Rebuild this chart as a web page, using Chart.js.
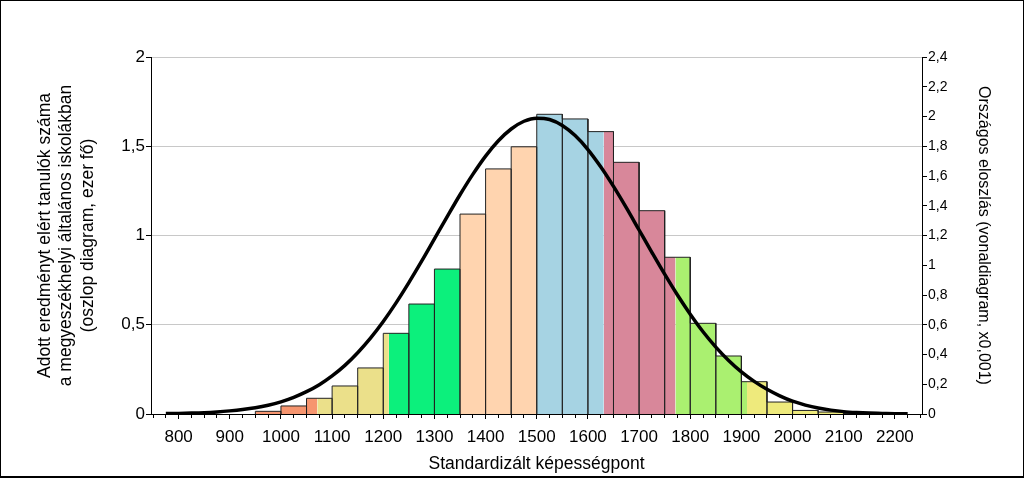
<!DOCTYPE html>
<html><head><meta charset="utf-8">
<script src="https://cdn.jsdelivr.net/npm/chart.js@4.4.1/dist/chart.umd.min.js"></script>
<style>
html,body{margin:0;padding:0;background:#fff;}
#wrap{position:relative;width:1024px;height:478px;}
#frame{position:absolute;left:0;top:0;width:1024px;height:478px;box-sizing:border-box;border:1px solid #000;border-bottom:2px solid #000;pointer-events:none;}
canvas{display:block;}
</style></head><body>
<div id="wrap"><canvas id="c" width="1024" height="478"></canvas><div id="frame"></div></div>
<script>
// ---- data ----
const binStarts = [950,1000,1050,1100,1150,1200,1250,1300,1350,1400,1450,1500,1550,1600,1650,1700,1750,1800,1850,1900,1950,2000,2050,2100];
const binWidth = 50;
const binValues = [0.015,0.045,0.088,0.157,0.258,0.452,0.616,0.812,1.12,1.373,1.497,1.679,1.653,1.582,1.41,1.139,0.878,0.508,0.325,0.181,0.067,0.02,0.011,0.003];
const levelBounds = [1071,1211,1350,1500,1631,1771,1911];
const levelColors = ['#F6956F','#EBE08A','#0CF07C','#FFD4AF','#A6D3E3','#D8879A','#AAF070','#EEEA7C'];
const curveX = [775,800,825,850,875,900,925,950,975,1000,1025,1050,1075,1100,1125,1150,1175,1200,1225,1250,1275,1300,1325,1350,1375,1400,1425,1450,1475,1500,1525,1550,1575,1600,1625,1650,1675,1700,1725,1750,1775,1800,1825,1850,1875,1900,1925,1950,1975,2000,2025,2050,2075,2100,2125,2150,2175,2200,2225];
const curveY = [0.003,0.004,0.006,0.009,0.014,0.021,0.030,0.042,0.059,0.082,0.112,0.150,0.197,0.256,0.327,0.412,0.510,0.622,0.747,0.883,1.027,1.177,1.327,1.474,1.611,1.734,1.837,1.916,1.968,1.989,1.980,1.940,1.872,1.778,1.662,1.530,1.387,1.237,1.087,0.940,0.800,0.671,0.553,0.450,0.360,0.283,0.219,0.166,0.122,0.086,0.060,0.040,0.026,0.016,0.010,0.006,0.004,0.002,0.001];
const xLabelValues = [800,900,1000,1100,1200,1300,1400,1500,1600,1700,1800,1900,2000,2100,2200];
const xTickLabels = ['800','900','1000','1100','1200','1300','1400','1500','1600','1700','1800','1900','2000','2100','2200'];
const leftTickValues = [0,0.5,1,1.5,2];
const leftTickLabels = ['0','0,5','1','1,5','2'];
const rightTickValues = [0,0.2,0.4,0.6,0.8,1,1.2,1.4,1.6,1.8,2,2.2,2.4];
const rightTickLabels = ['0','0,2','0,4','0,6','0,8','1','1,2','1,4','1,6','1,8','2','2,2','2,4'];
const xTitle = 'Standardizált képességpont';
const leftTitle = ['Adott eredményt elért tanulók száma','a megyeszékhelyi általános iskolákban','(oszlop diagram, ezer fő)'];
const rightTitle = 'Országos eloszlás (vonaldiagram, x0,001)';

// ---- build datasets ----
const F = "'Liberation Sans', Arial, sans-serif";
const datasets = [];
binStarts.forEach((s, i) => {
  const e = s + binWidth, h = binValues[i];
  const cuts = [s, ...levelBounds.filter(b => b > s && b < e), e];
  for (let k = 0; k < cuts.length - 1; k++) {
    const a = cuts[k], b = cuts[k + 1];
    const lvl = levelBounds.filter(v => v <= a).length;
    datasets.push({
      data: [{x:a,y:0},{x:a,y:h},{x:b,y:h},{x:b,y:0}],
      backgroundColor: levelColors[lvl], borderColor: 'rgba(0,0,0,0)', borderWidth: 0,
      fill: 'origin', pointRadius: 0, pointHoverRadius: 0, tension: 0, order: 2, yAxisID: 'y'
    });
  }
});
const outline = [{x: binStarts[0], y: 0}];
binStarts.forEach((s, i) => {
  outline.push({x:s, y:binValues[i]}, {x:s+binWidth, y:binValues[i]}, {x:s+binWidth, y:0});
});
datasets.push({data: outline, borderColor: '#222', borderWidth: 1, fill: false, pointRadius: 0, pointHoverRadius: 0, tension: 0, order: 1, yAxisID: 'y'});
datasets.push({
  data: curveX.map((x, i) => ({x, y: curveY[i]})),
  borderColor: '#000', borderWidth: 3.5, fill: false, pointRadius: 0, pointHoverRadius: 0,
  tension: 0.4, cubicInterpolationMode: 'monotone', order: 0, yAxisID: 'y2'
});

const findIdx = (arr, v) => arr.findIndex(t => Math.abs(t - v) < 1e-6);

new Chart(document.getElementById('c'), {
  type: 'line',
  data: { datasets },
  options: {
    responsive: false, animation: false, devicePixelRatio: 1,
    layout: { padding: { top: 57, left: 0, right: 0, bottom: 0 } },
    plugins: { legend: { display: false }, tooltip: { enabled: false } },
    scales: {
      x: {
        type: 'linear', position: 'bottom', min: 746, max: 2253,
        afterFit: s => { s.height = 64; },
        ticks: {
          stepSize: 25, includeBounds: false, autoSkip: false, maxRotation: 0, minRotation: 0,
          padding: 8, color: '#000', font: { family: F, size: 17 },
          callback: v => { const i = findIdx(xLabelValues, v); return i >= 0 ? xTickLabels[i] : ''; }
        },
        grid: {
          drawOnChartArea: false, drawTicks: true, tickLength: 5, tickColor: '#000', tickWidth: 1,
          tickBorderDash: ctx => (ctx.tick && findIdx(xLabelValues, ctx.tick.value) >= 0) ? [] : [3, 10]
        },
        border: { color: '#000', width: 1 },
        title: { display: true, text: xTitle, color: '#000', font: { family: F, size: 17.5, lineHeight: 1.2 }, padding: { top: 0, bottom: 3.5 } }
      },
      y: {
        type: 'linear', position: 'left', min: 0, max: 2,
        afterFit: s => { s.width = 151; },
        ticks: {
          stepSize: 0.5, padding: 1, color: '#000', font: { family: F, size: 17 },
          callback: v => { const i = findIdx(leftTickValues, v); return i >= 0 ? leftTickLabels[i] : ''; }
        },
        grid: { color: '#C8C8C8', lineWidth: 1, drawTicks: true, tickLength: 5, tickColor: '#000' },
        border: { color: '#000', width: 1 },
        title: { display: true, text: leftTitle, color: '#000', font: { family: F, size: 17.5, lineHeight: 1.2286 }, padding: { top: 34.25, bottom: 0 } }
      },
      y2: {
        type: 'linear', position: 'right', min: 0, max: 2.4,
        afterFit: s => { s.width = 102; },
        ticks: {
          stepSize: 0.1, padding: 1, color: '#000', font: { family: F, size: 14 },
          callback: v => { const i = findIdx(rightTickValues, v); return i >= 0 ? rightTickLabels[i] : ''; }
        },
        grid: {
          drawOnChartArea: false, drawTicks: true, tickLength: 5, tickColor: '#000',
          tickBorderDash: ctx => (ctx.tick && findIdx(rightTickValues, ctx.tick.value) >= 0) ? [] : [3, 10]
        },
        border: { color: '#000', width: 1 },
        title: { display: true, text: rightTitle, color: '#000', font: { family: F, size: 16, lineHeight: 1.2 }, padding: { top: 30.5, bottom: 0 } }
      }
    }
  }
});
</script>
</body></html>
